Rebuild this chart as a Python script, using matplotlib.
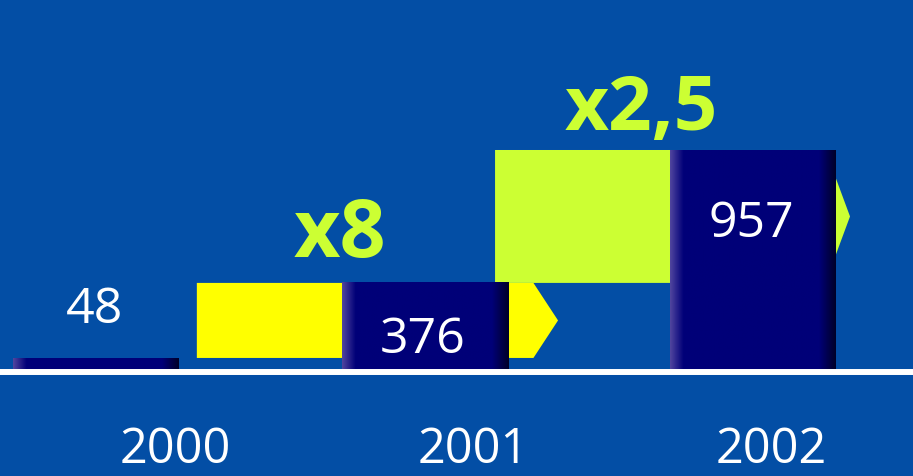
import numpy as np
import matplotlib.pyplot as plt
from matplotlib.patches import Polygon
from matplotlib.colors import to_rgb

years = ['2000', '2001', '2002']
values = [48, 376, 957]
growth = ['x8', 'x2,5']

BG = '#034EA5'
NAVY = '#000078'
ARROW_COLORS = ['#FFFF00', '#CCFF33']
GREEN_TXT = '#CCFF33'

fig = plt.figure(figsize=(9.13, 4.77), dpi=100)
fig.patch.set_facecolor(BG)
ax = fig.add_axes([0, 0, 1, 1])
ax.set_facecolor(BG)

# 1 x-unit = 328 px, 1 px = 4.37 value units, baseline at px 370
XLIM = (-0.294, 2.489)
YLIM = (-468, 1617)
ax.axis('off')

x = np.arange(len(values))
width = 0.506

# arrows from previous value up to the next one, behind the bars
arrow_left = [0.306, 1.215]
arrow_tip = [1.407, 2.297]
head = 0.075
for i in range(len(growth)):
    y0, y1 = values[i], values[i + 1]
    ym = (y0 + y1) / 2
    l, t = arrow_left[i], arrow_tip[i]
    pts = [(l, y0), (t - head, y0), (t, ym), (t - head, y1), (l, y1)]
    ax.add_patch(Polygon(pts, closed=True, facecolor=ARROW_COLORS[i],
                         edgecolor='none', zorder=1))

# bars with shaded edges
n = 200
pos = np.linspace(0, 1, n)
light = np.array(to_rgb('#50449E'))
navy = np.array(to_rgb(NAVY))
dark = np.array(to_rgb('#000028'))
grad = np.tile(navy, (n, 1))
m = pos < 0.08
grad[m] = light + (navy - light) * (pos[m] / 0.08)[:, None]
m = pos > 0.90
grad[m] = navy + (dark - navy) * ((pos[m] - 0.90) / 0.10)[:, None]
img = grad[None, :, :]

bars = ax.bar(x, values, width=width, color=NAVY, zorder=2)
for b in bars:
    x0, y0 = b.get_x(), b.get_y()
    ax.imshow(img, extent=[x0, x0 + b.get_width(), y0, y0 + b.get_height()],
              aspect='auto', zorder=3, interpolation='bilinear')
ax.set_xlim(*XLIM)
ax.set_ylim(*YLIM)

# baseline
ax.axhline(-12, color='white', lw=4.3, zorder=4)

# value labels
value_label_y = [205, 74, 581]
for i, v in enumerate(values):
    ax.text(x[i] - 0.005, value_label_y[i], str(v), color='white',
            family='Open Sans', fontsize=36, ha='center', va='baseline', zorder=5)

# growth labels
growth_pos = [(0.742, 494), (1.66, 1049)]
growth_size = [58, 55]
for g, (gx, gy), s in zip(growth, growth_pos, growth_size):
    ax.text(gx, gy, g, color=GREEN_TXT, family='Open Sans', fontweight='bold',
            fontsize=s, ha='center', va='baseline', zorder=5)

# year labels, sitting on the bottom edge
year_label_x = [0.240, 1.148, 2.057]
for yx, yr in zip(year_label_x, years):
    ax.text(yx, 0.004, yr, color='white', family='Open Sans', fontsize=35,
            ha='center', va='bottom', zorder=5,
            transform=ax.get_xaxis_transform())

fig.savefig('out.png', dpi=100, facecolor=BG)
